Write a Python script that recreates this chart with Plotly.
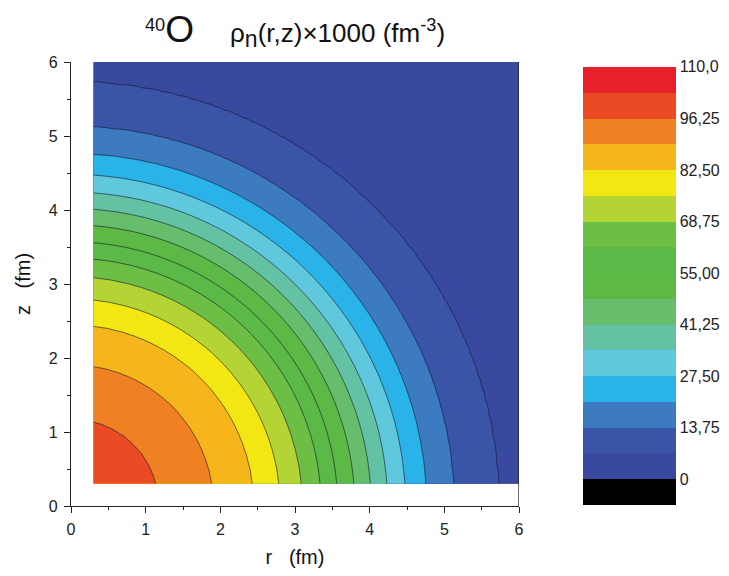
import numpy as np
import plotly.graph_objects as go

R_profile = [0.0, 0.5, 1.18, 1.91, 2.45, 2.80, 3.10, 3.35, 3.57, 3.80, 4.02, 4.24,
             4.48, 4.76, 5.13, 5.73, 6.5, 8.5]
rho_profile = [100.5, 99.6, 96.25, 89.375, 82.5, 75.625, 68.75, 61.875, 55.0, 48.125,
               41.25, 34.375, 27.5, 20.625, 13.75, 6.875, 3.5, 0.8]

# Colour bands (below 0, then 0..110 in steps of 6.875)
band_colors = ["#000000", "#3949A0", "#3A55A8", "#3C7BC0", "#29B3E8", "#60C8DC",
               "#63C2A4", "#66BD6C", "#5DB946", "#5AB947", "#6DBE45", "#B4D335",
               "#F2E712", "#F6B51A", "#F08122", "#EB4B24", "#E8202A"]
cb_tickvals = [0, 13.75, 27.5, 41.25, 55.0, 68.75, 82.5, 96.25, 110.0]
cb_ticktext = ["0", "13,75", "27,50", "41,25", "55,00", "68,75", "82,50", "96,25", "110,0"]

step = 6.875
cb_min, cb_max = -6.875, 110.0

r = np.linspace(0.3, 6.0, 115)
z = np.linspace(0.3, 6.0, 115)
RR, ZZ = np.meshgrid(r, z)
field = np.interp(np.sqrt(RR**2 + ZZ**2), R_profile, rho_profile)

n = len(band_colors)
# colorscale for the contour fills (each band sampled at its own stop)
contour_scale = [[k / (n - 1), c] for k, c in enumerate(band_colors)]
# stepwise colorscale for the colour bar (cb_min..cb_max, 17 equal bands)
bar_scale = []
for k, c in enumerate(band_colors):
    bar_scale.append([k / n, c])
    bar_scale.append([(k + 1) / n, c])

font_family = "Liberation Sans, Arial"

fig = go.Figure()
fig.add_trace(go.Contour(
    x=r, y=z, z=field,
    colorscale=contour_scale,
    autocontour=False,
    contours=dict(start=0, end=103.125, size=step, coloring="fill"),
    line=dict(color="rgba(20,20,40,0.75)", width=0.8),
    showscale=False,
    hoverinfo="skip",
))

# colour bar carrier
fig.add_trace(go.Scatter(
    x=[-1], y=[-1], mode="markers",
    marker=dict(
        color=[50], colorscale=bar_scale, cmin=cb_min, cmax=cb_max, opacity=0,
        showscale=True,
        colorbar=dict(
            x=1.143, xanchor="left", xpad=0,
            y=0.989, yanchor="top", ypad=0,
            lenmode="pixels", len=438,
            thickness=93, thicknessmode="pixels",
            outlinewidth=0,
            tickmode="array", tickvals=cb_tickvals, ticktext=cb_ticktext,
            ticks="",
            tickfont=dict(family=font_family, size=16, color="#222"),
        ),
    ),
    showlegend=False, hoverinfo="skip",
))

# right-hand frame line
fig.add_shape(type="line", x0=6, x1=6, y0=0, y1=6, xref="x", yref="y",
              line=dict(color="#222", width=1.3))

axis_common = dict(
    showline=True, linecolor="#222", linewidth=1.3,
    ticks="outside", ticklen=6, tickwidth=1.3, tickcolor="#222",
    dtick=1, tick0=0, range=[0, 6], showgrid=False, zeroline=False,
    minor=dict(ticks="outside", ticklen=3, tickwidth=1.2, tickcolor="#222", dtick=0.5),
    tickfont=dict(family=font_family, size=16, color="#222"),
    ticklabelstandoff=3,
)

fig.update_xaxes(**axis_common,
                 title=dict(text="r   (fm)", standoff=12,
                            font=dict(family=font_family, size=20, color="#111")))
fig.update_yaxes(**axis_common,
                 title=dict(text="z   (fm)", standoff=12,
                            font=dict(family=font_family, size=20, color="#111")))

fig.update_layout(
    width=729, height=576,
    margin=dict(l=71, r=210, t=62, b=67),
    paper_bgcolor="white", plot_bgcolor="white",
    title=dict(
        text=('<sup>40</sup><span style="font-size:37px">O</span>     '
              'ρ<sub><span style="font-size:23px">n</span></sub>(r,z)×1000 (fm<sup>-3</sup>)'),
        x=0.5, xref="paper", xanchor="center",
        y=0.943, yanchor="middle",
        font=dict(family=font_family, size=26, color="#111"),
    ),
    showlegend=False,
)

fig.write_html("out.html")
